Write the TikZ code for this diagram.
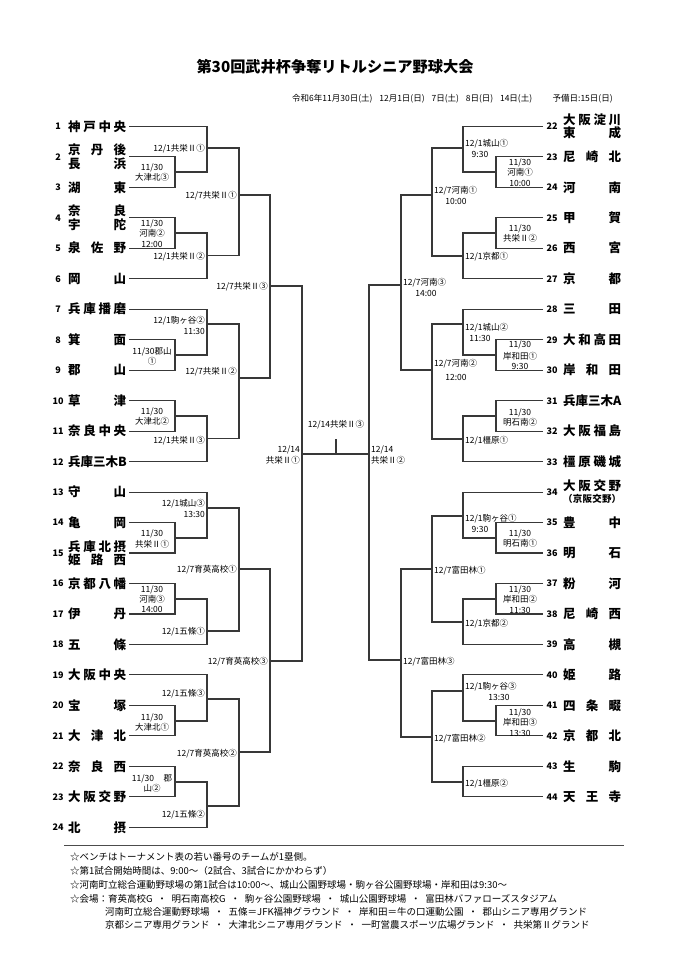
\documentclass[tikz,border=0pt]{standalone}
\usepackage{fontspec}
\setmainfont{Noto Sans CJK JP}
\newcommand\jn[1]{\makebox[58pt][s]{#1}}
\tikzset{
  br/.style={line width=1.1pt, draw=black!78},
  tname/.style={font=\fontsize{12.5}{13}\selectfont\bfseries, inner sep=0pt, text height=9.5pt, text depth=0pt, anchor=west},
  tsmall/.style={font=\fontsize{9.5}{10}\selectfont\bfseries, inner sep=0pt, text height=7.2pt, text depth=0pt, anchor=west},
  tnum/.style={font=\fontsize{9}{10}\selectfont\bfseries, inner sep=0pt, text height=6.8pt, text depth=0pt},
  lab/.style={font=\fontsize{8.5}{9}\selectfont, inner sep=0pt, text height=6.5pt, text depth=0pt},
  labL/.style={lab, anchor=east},
  labR/.style={lab, anchor=west},
  foot/.style={font=\fontsize{9.5}{10}\selectfont, inner sep=0pt, text height=7.2pt, text depth=0pt, anchor=west},
}
% left team: number, y, name
\newcommand\teamL[3]{%
  \node[tnum] (nl#1) at (58,#2) {#1};
  \node[tname] (tl#1) at (68,#2) {\jn{#3}};
  \coordinate (el#1) at (129,#2);}
\newcommand\teamLL[4]{%
  \node[tnum] (nl#1) at (58,#2) {#1};
  \node[tname] (tl#1a) at (68,#2-6.6) {\jn{#3}};
  \node[tname] (tl#1b) at (68,#2+6.6) {\jn{#4}};
  \coordinate (el#1) at (129,#2);}
\newcommand\teamR[3]{%
  \node[tnum] (nr#1) at (552,#2) {#1};
  \node[tname] (tr#1) at (563,#2) {\jn{#3}};
  \coordinate (er#1) at (543,#2);}
\newcommand\mt[3]{\draw[br] (#1) -| (#3) |- (#2);}
\newcommand\LL[4]{\node[labL] (#1) at (#2,#3) {#4};}
\newcommand\LR[4]{\node[labR] (#1) at (#2,#3) {#4};}
\newcommand\LC[4]{\node[lab] (#1) at (#2,#3) {#4};}
\begin{document}
\begin{tikzpicture}[x=1pt,y=-1pt]
\useasboundingbox (0,0) rectangle (676,956);
\fill[white] (0,0) rectangle (676,956);

\node[font=\fontsize{15.2}{16}\selectfont\bfseries, inner sep=0pt] (title) at (335,67) {第30回武井杯争奪リトルシニア野球大会};
\node[font=\fontsize{8.5}{9}\selectfont, inner sep=0pt, anchor=west] (sub) at (292,99) {令和6年11月30日(土)\hspace{0.8em}12月1日(日)\hspace{0.8em}7日(土)\hspace{0.8em}8日(日)\hspace{0.8em}14日(土)\hspace{2.4em}予備日:15日(日)};

% left teams
\teamL{1}{126.3}{神\hfill 戸\hfill 中\hfill 央}
\teamLL{2}{156.8}{京\hfill 丹\hfill 後}{長\hfill 浜}
\teamL{3}{187.3}{湖\hfill 東}
\teamLL{4}{217.7}{奈\hfill 良}{宇\hfill 陀}
\teamL{5}{248.2}{泉\hfill 佐\hfill 野}
\teamL{6}{278.7}{岡\hfill 山}
\teamL{7}{309.2}{兵\hfill 庫\hfill 播\hfill 磨}
\teamL{8}{339.7}{箕\hfill 面}
\teamL{9}{370.1}{郡\hfill 山}
\teamL{10}{400.6}{草\hfill 津}
\teamL{11}{431.1}{奈\hfill 良\hfill 中\hfill 央}
\teamL{12}{461.6}{兵\hfill 庫\hfill 三\hfill 木\hfill B}
\teamL{13}{492.1}{守\hfill 山}
\teamL{14}{522.5}{亀\hfill 岡}
\teamLL{15}{553.0}{兵\hfill 庫\hfill 北\hfill 摂}{姫\hfill 路\hfill 西}
\teamL{16}{583.5}{京\hfill 都\hfill 八\hfill 幡}
\teamL{17}{614.0}{伊\hfill 丹}
\teamL{18}{644.5}{五\hfill 條}
\teamL{19}{674.9}{大\hfill 阪\hfill 中\hfill 央}
\teamL{20}{705.4}{宝\hfill 塚}
\teamL{21}{735.9}{大\hfill 津\hfill 北}
\teamL{22}{766.4}{奈\hfill 良\hfill 西}
\teamL{23}{796.9}{大\hfill 阪\hfill 交\hfill 野}
\teamL{24}{827.3}{北\hfill 摂}

% right teams
\node[tnum] (nr22) at (552,126.3) {22};
\node[tname] (tr22a) at (563,119.7) {\jn{大\hfill 阪\hfill 淀\hfill 川}};
\node[tname] (tr22b) at (563,132.9) {\jn{東\hfill 成}};
\coordinate (er22) at (543,126.3);
\teamR{23}{156.8}{尼\hfill 崎\hfill 北}
\teamR{24}{187.3}{河\hfill 南}
\teamR{25}{217.7}{甲\hfill 賀}
\teamR{26}{248.2}{西\hfill 宮}
\teamR{27}{278.7}{京\hfill 都}
\teamR{28}{309.2}{三\hfill 田}
\teamR{29}{339.7}{大\hfill 和\hfill 高\hfill 田}
\teamR{30}{370.1}{岸\hfill 和\hfill 田}
\teamR{31}{400.6}{兵\hfill 庫\hfill 三\hfill 木\hfill A}
\teamR{32}{431.1}{大\hfill 阪\hfill 福\hfill 島}
\teamR{33}{461.6}{橿\hfill 原\hfill 磯\hfill 城}
\node[tnum] (nr34) at (552,492.1) {34};
\node[tname] (tr34a) at (563,485.8) {\jn{大\hfill 阪\hfill 交\hfill 野}};
\node[tsmall] (tr34b) at (563,499.2) {\jn{（\hfill 京\hfill 阪\hfill 交\hfill 野\hfill ）}};
\coordinate (er34) at (543,492.1);
\teamR{35}{522.5}{豊\hfill 中}
\teamR{36}{553.0}{明\hfill 石}
\teamR{37}{583.5}{粉\hfill 河}
\teamR{38}{614.0}{尼\hfill 崎\hfill 西}
\teamR{39}{644.5}{高\hfill 槻}
\teamR{40}{674.9}{姫\hfill 路}
\teamR{41}{705.4}{四\hfill 条\hfill 畷}
\teamR{42}{735.9}{京\hfill 都\hfill 北}
\teamR{43}{766.4}{生\hfill 駒}
\teamR{44}{796.9}{天\hfill 王\hfill 寺}

% left junctions
\coordinate (M1) at (175,172);   \coordinate (M2) at (207,148);
\coordinate (M3) at (175,233);   \coordinate (M4) at (207,255.5);
\coordinate (M5) at (239,195);   \coordinate (M6) at (175,355);
\coordinate (M7) at (207,324);   \coordinate (M8) at (175,416);
\coordinate (M9) at (207,438.5); \coordinate (M10) at (239,378);
\coordinate (M11) at (270,286);  \coordinate (M12) at (175,538);
\coordinate (M13) at (207,508);  \coordinate (M14) at (175,599);
\coordinate (M15) at (207,631);  \coordinate (M16) at (239,569);
\coordinate (M17) at (175,721);  \coordinate (M18) at (207,699);
\coordinate (M19) at (175,782);  \coordinate (M20) at (207,806);
\coordinate (M21) at (239,752);  \coordinate (M22) at (270,661);
\coordinate (SL) at (302,454);
% right junctions
\coordinate (R1) at (496,172);   \coordinate (R2) at (463,148);
\coordinate (R3) at (496,233);   \coordinate (R4) at (463,256);
\coordinate (R5) at (432,195);   \coordinate (R6) at (496,355);
\coordinate (R7) at (463,324);   \coordinate (R8) at (496,416);
\coordinate (R9) at (463,439);   \coordinate (R10) at (432,370);
\coordinate (R11) at (401,285);  \coordinate (R12) at (496,538);
\coordinate (R13) at (463,516);  \coordinate (R14) at (496,599);
\coordinate (R15) at (463,622);  \coordinate (R16) at (432,569);
\coordinate (R17) at (496,721);  \coordinate (R18) at (463,691);
\coordinate (R19) at (463,782);  \coordinate (R20) at (432,737);
\coordinate (R21) at (401,660);  \coordinate (SR) at (369,454);
\coordinate (FT) at (336,439);   \coordinate (FB) at (336,454);

% left bracket
\mt{el2}{el3}{M1}  \mt{el1}{M1}{M2}
\mt{el4}{el5}{M3}  \mt{M3}{el6}{M4}
\mt{M2}{M4}{M5}
\mt{el8}{el9}{M6}  \mt{el7}{M6}{M7}
\mt{el10}{el11}{M8} \mt{M8}{el12}{M9}
\mt{M7}{M9}{M10}
\mt{M5}{M10}{M11}
\mt{el14}{el15}{M12} \mt{el13}{M12}{M13}
\mt{el16}{el17}{M14} \mt{M14}{el18}{M15}
\mt{M13}{M15}{M16}
\mt{el20}{el21}{M17} \mt{el19}{M17}{M18}
\mt{el22}{el23}{M19} \mt{M19}{el24}{M20}
\mt{M18}{M20}{M21}
\mt{M16}{M21}{M22}
\mt{M11}{M22}{SL}
% right bracket
\mt{er23}{er24}{R1}  \mt{er22}{R1}{R2}
\mt{er25}{er26}{R3}  \mt{R3}{er27}{R4}
\mt{R2}{R4}{R5}
\mt{er29}{er30}{R6}  \mt{er28}{R6}{R7}
\mt{er31}{er32}{R8}  \mt{R8}{er33}{R9}
\mt{R7}{R9}{R10}
\mt{R5}{R10}{R11}
\mt{er35}{er36}{R12} \mt{er34}{R12}{R13}
\mt{er37}{er38}{R14} \mt{R14}{er39}{R15}
\mt{R13}{R15}{R16}
\mt{er41}{er42}{R17} \mt{er40}{R17}{R18}
\mt{er43}{er44}{R19}
\mt{R18}{R19}{R20}
\mt{R16}{R20}{R21}
\mt{R11}{R21}{SR}
% final
\draw[br] (SL) -- (SR);
\draw[br] (FT) -- (FB);
\node[lab] (fin) at (336,424) {12/14共栄Ⅱ③};

% left labels
\LL{a1}{205}{148}{12/1共栄Ⅱ①}
\LL{a2}{205}{256}{12/1共栄Ⅱ②}
\LL{a3}{237}{195}{12/7共栄Ⅱ①}
\LL{a4}{268}{286}{12/7共栄Ⅱ③}
\LL{a5}{205}{320}{12/1駒ヶ谷②}
\LL{a6}{205}{331}{11:30}
\LL{a7}{237}{371}{12/7共栄Ⅱ②}
\LL{a8}{205}{440}{12/1共栄Ⅱ③}
\LL{a9}{300}{449}{12/14}
\LL{a10}{300}{460}{共栄Ⅱ①}
\LL{a11}{205}{503}{12/1城山③}
\LL{a12}{205}{514}{13:30}
\LL{a13}{237}{569}{12/7育英高校①}
\LL{a14}{205}{631}{12/1五條①}
\LL{a15}{268}{661}{12/7育英高校③}
\LL{a16}{205}{693}{12/1五條③}
\LL{a17}{237}{753}{12/7育英高校②}
\LL{a18}{205}{814}{12/1五條②}
% left first-round labels
\LC{b1}{152}{167}{11/30}  \LC{b2}{152}{177}{大津北③}
\LC{b3}{152}{223}{11/30}  \LC{b4}{152}{233}{河南②} \LC{b5}{152}{244}{12:00}
\LC{b6}{152}{351}{11/30郡山} \LC{b7}{152}{361}{①}
\LC{b8}{152}{411}{11/30}  \LC{b9}{152}{421}{大津北②}
\LC{b10}{152}{533}{11/30} \LC{b11}{152}{544}{共栄Ⅱ①}
\LC{b12}{152}{589}{11/30} \LC{b13}{152}{599}{河南③} \LC{b14}{152}{609}{14:00}
\LC{b15}{152}{717}{11/30} \LC{b16}{152}{727}{大津北①}
\LC{b17}{152}{778}{11/30\hspace{1.1em}郡} \LC{b18}{152}{788}{山②}

% right labels
\LR{c1}{465}{143}{12/1城山①}
\LC{c2}{480}{154}{9:30}
\LR{c3}{465}{256}{12/1京都①}
\LR{c4}{434}{190}{12/7河南①}
\LC{c5}{456}{201}{10:00}
\LR{c6}{403}{282}{12/7河南③}
\LC{c7}{426}{293}{14:00}
\LR{c8}{465}{327}{12/1城山②}
\LC{c9}{480}{338}{11:30}
\LR{c10}{434}{363}{12/7河南②}
\LC{c11}{456}{377}{12:00}
\LR{c12}{465}{440}{12/1橿原①}
\LR{c13}{371}{449}{12/14}
\LR{c14}{371}{460}{共栄Ⅱ②}
\LR{c15}{465}{518}{12/1駒ヶ谷①}
\LC{c16}{480}{529}{9:30}
\LR{c17}{434}{570}{12/7富田林①}
\LR{c18}{465}{623}{12/1京都②}
\LR{c19}{403}{661}{12/7富田林③}
\LR{c20}{465}{686}{12/1駒ヶ谷③}
\LC{c21}{499}{697}{13:30}
\LR{c22}{434}{738}{12/7富田林②}
\LR{c23}{465}{783}{12/1橿原②}
% right first-round labels
\LC{d1}{520}{162}{11/30}  \LC{d2}{520}{172}{河南①} \LC{d3}{520}{183}{10:00}
\LC{d4}{520}{228}{11/30}  \LC{d5}{520}{238}{共栄Ⅱ②}
\LC{d6}{520}{344}{11/30}  \LC{d7}{520}{356}{岸和田①} \LC{d8}{520}{366}{9:30}
\LC{d9}{520}{412}{11/30}  \LC{d10}{520}{422}{明石南②}
\LC{d11}{520}{533}{11/30} \LC{d12}{520}{543}{明石南①}
\LC{d13}{520}{589}{11/30} \LC{d14}{520}{599}{岸和田②} \LC{d15}{520}{610}{11:30}
\LC{d16}{520}{712}{11/30} \LC{d17}{520}{722}{岸和田③} \LC{d18}{520}{733}{13:30}

% footer
\coordinate (rl) at (64,845); \coordinate (rr) at (624,845);
\draw[line width=1pt, draw=black!70] (rl) -- (rr);
\node[foot] (f1) at (70,857) {☆ベンチはトーナメント表の若い番号のチームが1塁側。};
\node[foot] (f2) at (70,871) {☆第1試合開始時間は、9:00～（2試合、3試合にかかわらず）};
\node[foot] (f3) at (70,885) {☆河南町立総合運動野球場の第1試合は10:00～、城山公園野球場・駒ヶ谷公園野球場・岸和田は9:30～};
\node[foot] (f4) at (70,899) {☆会場：育英高校G\hspace{0.5em}・\hspace{0.5em}明石南高校G\hspace{0.5em}・\hspace{0.5em}駒ヶ谷公園野球場\hspace{0.5em}・\hspace{0.5em}城山公園野球場\hspace{0.5em}・\hspace{0.5em}富田林バファローズスタジアム};
\node[foot] (f5) at (105,912) {河南町立総合運動野球場\hspace{0.5em}・\hspace{0.5em}五條＝JFK福神グラウンド\hspace{0.5em}・\hspace{0.5em}岸和田＝牛の口運動公園\hspace{0.5em}・\hspace{0.5em}郡山シニア専用グランド};
\node[foot] (f6) at (105,925) {京都シニア専用グランド\hspace{0.5em}・\hspace{0.5em}大津北シニア専用グランド\hspace{0.5em}・\hspace{0.5em}一町営農スポーツ広場グランド\hspace{0.5em}・\hspace{0.5em}共栄第Ⅱグランド};
\end{tikzpicture}
\end{document}
